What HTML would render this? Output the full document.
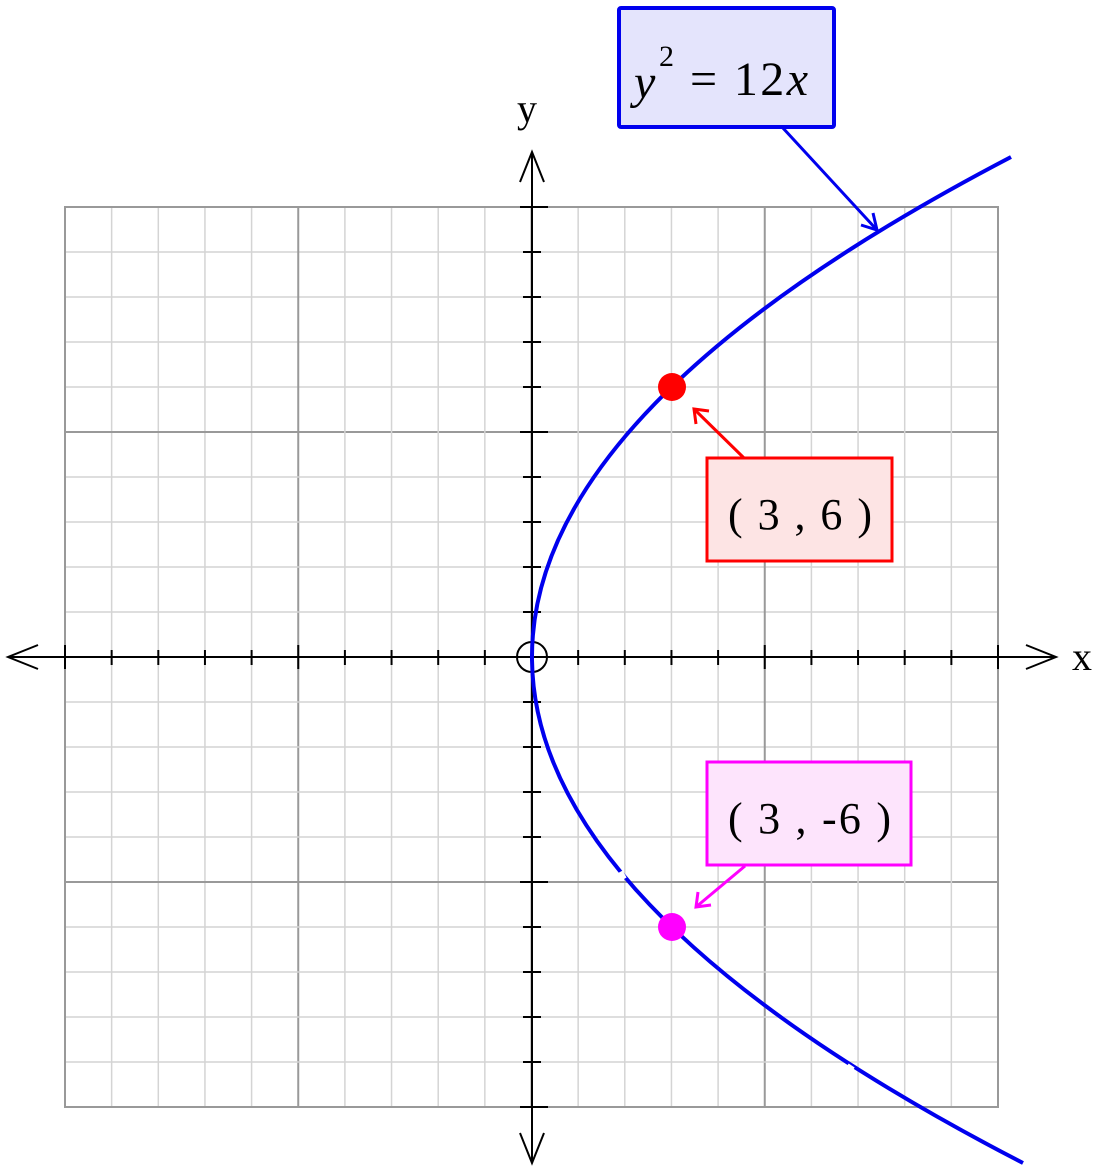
<!DOCTYPE html>
<html><head><style>body{margin:0;background:#fff}svg{display:block}</style></head>
<body>
<svg id="s" width="1100" height="1172" xmlns="http://www.w3.org/2000/svg" font-family="Liberation Serif, serif">
<g id="grid"></g>
<rect x="65" y="207" width="933" height="900" fill="none" stroke="#999" stroke-width="2"/>
<line x1="8" y1="657" x2="1056" y2="657" stroke="#000" stroke-width="2"/>
<line x1="532" y1="152" x2="532" y2="1163" stroke="#000" stroke-width="2"/>
<polyline points="38,645 8,657 38,669" fill="none" stroke="#000" stroke-width="2"/>
<polyline points="1026,645 1056,657 1026,669" fill="none" stroke="#000" stroke-width="2"/>
<polyline points="520,182 532,152 544,182" fill="none" stroke="#000" stroke-width="2"/>
<polyline points="520,1133 532,1163 544,1133" fill="none" stroke="#000" stroke-width="2"/>
<g id="ticks" stroke="#000" stroke-width="2"></g>
<circle cx="532" cy="657" r="15" fill="none" stroke="#000" stroke-width="2"/>
<text x="1072" y="670" font-size="40">x</text>
<text x="517" y="122" font-size="40">y</text>
<path d="M1023,1163 Q47,660 1011,157" fill="none" stroke="#0000ee" stroke-width="4"/>
<line x1="620" y1="872" x2="624" y2="879" stroke="#fff" stroke-width="6"/>
<line x1="847" y1="1066" x2="853" y2="1070" stroke="#fff" stroke-width="6"/>
<circle cx="672" cy="387" r="14" fill="#f00"/>
<circle cx="672" cy="927" r="14" fill="#f0f"/>
<rect x="619" y="8" width="215" height="119" fill="#e4e4fc" stroke="#0000ee" stroke-width="4" rx="2"/>
<line x1="782" y1="127" x2="877" y2="230" stroke="#0000ee" stroke-width="3"/>
<polyline points="861,225 877,230 873,213" fill="none" stroke="#0000ee" stroke-width="3"/>
<text x="634" y="98" font-size="48" font-style="italic">y</text>
<text x="659" y="66" font-size="30">2</text>
<text x="690" y="95" font-size="48" textLength="118" lengthAdjust="spacing">= 12<tspan font-style="italic">x</tspan></text>
<rect x="707" y="458" width="185" height="103" fill="#fde4e4" stroke="#f00" stroke-width="3"/>
<line x1="744" y1="458" x2="694" y2="409" stroke="#f00" stroke-width="3"/>
<polyline points="696,424 694,409 709,411" fill="none" stroke="#f00" stroke-width="3"/>
<text x="728" y="529" font-size="44" textLength="144" lengthAdjust="spacing">( 3 , 6 )</text>
<rect x="707" y="762" width="204" height="103" fill="#fde4fc" stroke="#f0f" stroke-width="3"/>
<line x1="745" y1="866" x2="696" y2="907" stroke="#f0f" stroke-width="3"/>
<polyline points="698,892 696,907 711,905" fill="none" stroke="#f0f" stroke-width="3"/>
<text x="728" y="833" font-size="44" textLength="163" lengthAdjust="spacing">( 3 , -6 )</text>
</svg>
<script>
var ns="http://www.w3.org/2000/svg",g=document.getElementById("grid"),t=document.getElementById("ticks");
function L(p,a,b,c,d,col,w){var l=document.createElementNS(ns,"line");l.setAttribute("x1",a);l.setAttribute("y1",b);l.setAttribute("x2",c);l.setAttribute("y2",d);if(col)l.setAttribute("stroke",col);l.setAttribute("stroke-width",w);p.appendChild(l);}
for(var i=0;i<=20;i++){var x=65+i*46.65,y=207+i*45,maj=i%5==0;
L(g,x,207,x,1107,maj?"#999":"#d4d4d4",maj?2:1.5);L(g,65,y,998,y,maj?"#999":"#d4d4d4",maj?2:1.5);
if(i!=10){L(t,x,maj?645:650,x,maj?669:665,null,2);L(t,maj?520:523,y,maj?548:541,y,null,2);}}
</script>
</body></html>
